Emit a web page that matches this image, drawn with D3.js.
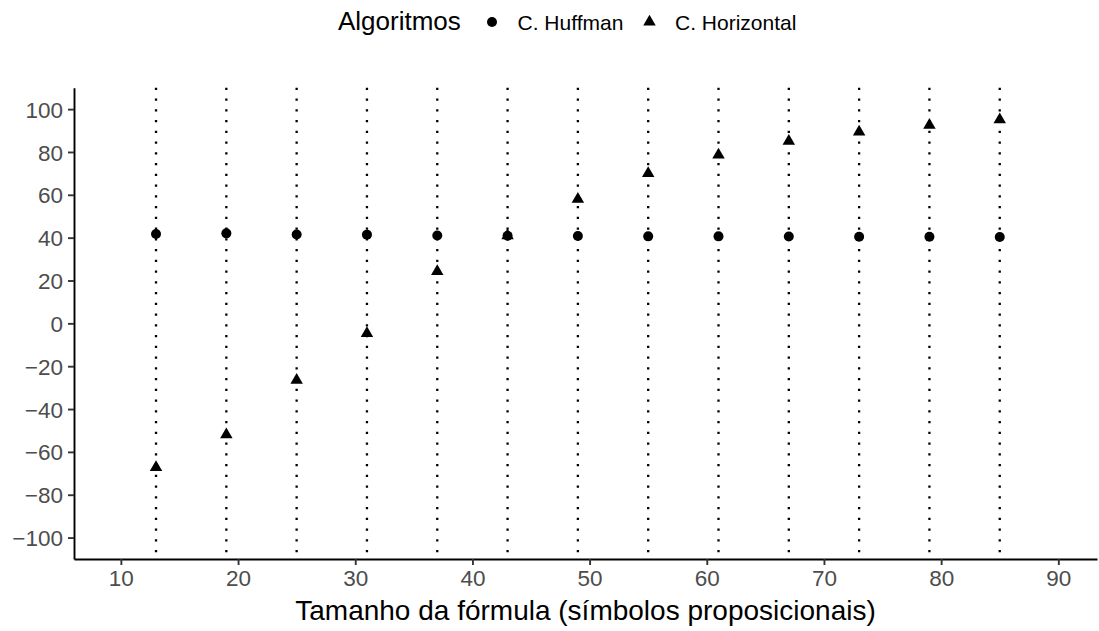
<!DOCTYPE html>
<html>
<head>
<meta charset="utf-8">
<script src="https://cdn.jsdelivr.net/npm/d3@7"></script>
<style>
  body { margin: 0; background: #fff; }
  text { font-family: "Liberation Sans", Arial, sans-serif; }
</style>
</head>
<body>
<div id="chart"></div>
<script>
'use strict';

// formula sizes (x) and the value of each algorithm at that size
const sizes = [13, 19, 25, 31, 37, 43, 49, 55, 61, 67, 73, 79, 85];
const huffman = [41.7, 42.0, 41.5, 41.4, 41.0, 40.9, 40.8, 40.6, 40.6, 40.5, 40.4, 40.4, 40.3];
const horizontal = [-67.3, -52.0, -26.5, -4.7, 24.2, 40.9, 58.0, 70.0, 78.6, 85.0, 89.4, 92.5, 95.1];

const xTicks = [10, 20, 30, 40, 50, 60, 70, 80, 90];
const yTicks = [-100, -80, -60, -40, -20, 0, 20, 40, 60, 80, 100];

const legendTitle = "Algoritmos";
const seriesNames = ["C. Huffman", "C. Horizontal"];
const xTitle = "Tamanho da fórmula (símbolos proposicionais)";

const width = 1099, height = 631;
const panel = {left: 74, right: 1097, top: 87.7, bottom: 559};

const svg = d3.select("#chart").append("svg")
  .attr("width", width)
  .attr("height", height);

const x = d3.scaleLinear().domain([6, 93.3]).range([panel.left, panel.right]);
const y = d3.scaleLinear().domain([-110, 110]).range([panel.bottom, panel.top]);

//dotted vertical guides, one per formula size
svg.append("g").selectAll("line")
  .data(sizes)
  .join("line")
  .attr("x1", d => x(d)).attr("x2", d => x(d))
  .attr("y1", panel.top).attr("y2", panel.bottom)
  .attr("stroke", "#000")
  .attr("stroke-width", 2.3)
  .attr("stroke-dasharray", "2.3,8.45");

//axes
const xAxis = svg.append("g")
  .attr("transform", `translate(0,${panel.bottom})`)
  .call(d3.axisBottom(x).tickValues(xTicks).tickSize(6).tickPadding(5).tickSizeOuter(0));
const yAxis = svg.append("g")
  .attr("transform", `translate(${panel.left},0)`)
  .call(d3.axisLeft(y).tickValues(yTicks).tickSize(6).tickPadding(5).tickSizeOuter(0)
    .tickFormat(d => d < 0 ? "\u2212" + Math.abs(d) : d));

[xAxis, yAxis].forEach(a => {
  a.select(".domain").attr("stroke", "#000").attr("stroke-width", 1.9);
  a.selectAll(".tick line").attr("stroke", "#333").attr("stroke-width", 1.9);
  a.selectAll(".tick text")
    .attr("fill", "#4d4d4d")
    .attr("font-size", 22.5)
    .attr("font-family", "Liberation Sans, Arial, sans-serif");
});
xAxis.selectAll(".tick text").attr("dy", "0.7em");
yAxis.selectAll(".tick text").attr("x", -11).attr("dy", "0.36em");

//points
const circle = d3.symbol().type(d3.symbolCircle).size(Math.PI * 5 * 5);
const triangle = d3.symbol().type(d3.symbolTriangle).size(3.6 * 3.6 * 3 * Math.sqrt(3));

svg.append("g").selectAll("path")
  .data(sizes.map((s, i) => ({x: s, v: huffman[i]})))
  .join("path")
  .attr("transform", d => `translate(${x(d.x)},${y(d.v)})`)
  .attr("d", circle)
  .attr("fill", "#000");

svg.append("g").selectAll("path")
  .data(sizes.map((s, i) => ({x: s, v: horizontal[i]})))
  .join("path")
  .attr("transform", d => `translate(${x(d.x)},${y(d.v)})`)
  .attr("d", triangle)
  .attr("fill", "#000");

//x title
svg.append("text")
  .attr("x", (panel.left + panel.right) / 2)
  .attr("y", 620)
  .attr("text-anchor", "middle")
  .attr("font-size", 28)
  .attr("fill", "#000")
  .text(xTitle);

//legend on top
const legend = svg.append("g");
legend.append("text")
  .attr("x", 338).attr("y", 30)
  .attr("font-size", 26)
  .attr("fill", "#000")
  .text(legendTitle);

const keys = [
  {sym: circle, kx: 492, tx: 517.5, name: seriesNames[0]},
  {sym: triangle, kx: 649.5, tx: 675, name: seriesNames[1]}
];
keys.forEach(k => {
  legend.append("path")
    .attr("transform", `translate(${k.kx},22)`)
    .attr("d", k.sym)
    .attr("fill", "#000");
  legend.append("text")
    .attr("x", k.tx).attr("y", 29.5)
    .attr("font-size", 21)
    .attr("fill", "#000")
    .text(k.name);
});
</script>
</body>
</html>
